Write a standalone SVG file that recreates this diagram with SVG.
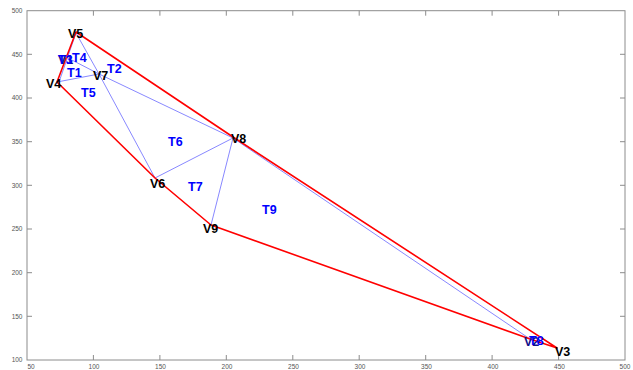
<svg xmlns="http://www.w3.org/2000/svg" width="633" height="370" viewBox="0 0 633 370">
<style>
.ax{fill:none;stroke:#8c8c8c;stroke-width:1}
.tk{stroke:#8c8c8c;stroke-width:1}
.tl{font-family:"Liberation Sans",Arial,sans-serif;font-size:6.5px;fill:#555}
.red{fill:none;stroke:#ff0000;stroke-width:1.6;stroke-linejoin:round}
.blue{fill:none;stroke:#6a6aff;stroke-width:0.8}
.v{font-family:"Liberation Sans",Arial,sans-serif;font-size:12.5px;font-weight:bold;fill:#000}
.t{font-family:"Liberation Sans",Arial,sans-serif;font-size:12.5px;font-weight:bold;fill:#0000ff}
</style>
<rect width="633" height="370" fill="#fff"/>
<g id="axes">
<rect class="ax" x="27" y="10.7" width="598" height="349.3"/>
<g class="tk">
<line x1="93.4" y1="360" x2="93.4" y2="355"/><line x1="159.9" y1="360" x2="159.9" y2="355"/><line x1="226.3" y1="360" x2="226.3" y2="355"/><line x1="292.8" y1="360" x2="292.8" y2="355"/><line x1="359.2" y1="360" x2="359.2" y2="355"/><line x1="425.7" y1="360" x2="425.7" y2="355"/><line x1="492.1" y1="360" x2="492.1" y2="355"/><line x1="558.6" y1="360" x2="558.6" y2="355"/>
<line x1="93.4" y1="10.7" x2="93.4" y2="15.7"/><line x1="159.9" y1="10.7" x2="159.9" y2="15.7"/><line x1="226.3" y1="10.7" x2="226.3" y2="15.7"/><line x1="292.8" y1="10.7" x2="292.8" y2="15.7"/><line x1="359.2" y1="10.7" x2="359.2" y2="15.7"/><line x1="425.7" y1="10.7" x2="425.7" y2="15.7"/><line x1="492.1" y1="10.7" x2="492.1" y2="15.7"/><line x1="558.6" y1="10.7" x2="558.6" y2="15.7"/>
<line x1="27" y1="54.3" x2="32" y2="54.3"/><line x1="27" y1="98" x2="32" y2="98"/><line x1="27" y1="141.7" x2="32" y2="141.7"/><line x1="27" y1="185.3" x2="32" y2="185.3"/><line x1="27" y1="229" x2="32" y2="229"/><line x1="27" y1="272.7" x2="32" y2="272.7"/><line x1="27" y1="316.3" x2="32" y2="316.3"/>
<line x1="625" y1="54.3" x2="620" y2="54.3"/><line x1="625" y1="98" x2="620" y2="98"/><line x1="625" y1="141.7" x2="620" y2="141.7"/><line x1="625" y1="185.3" x2="620" y2="185.3"/><line x1="625" y1="229" x2="620" y2="229"/><line x1="625" y1="272.7" x2="620" y2="272.7"/><line x1="625" y1="316.3" x2="620" y2="316.3"/>
</g>
<g class="tl" text-anchor="middle">
<text x="31" y="369">50</text><text x="94" y="369">100</text><text x="160.5" y="369">150</text><text x="227" y="369">200</text><text x="293.5" y="369">250</text><text x="360" y="369">300</text><text x="426.5" y="369">350</text><text x="493" y="369">400</text><text x="559.5" y="369">450</text><text x="625" y="369">500</text>
</g>
<g class="tl" text-anchor="end">
<text x="22.5" y="13">500</text><text x="22.5" y="56.6">450</text><text x="22.5" y="100.3">400</text><text x="22.5" y="144">350</text><text x="22.5" y="187.6">300</text><text x="22.5" y="231.3">250</text><text x="22.5" y="275">200</text><text x="22.5" y="318.6">150</text><text x="22.5" y="362.3">100</text>
</g>
</g>
<g id="connectors">
<g class="blue">
<line x1="76" y1="33" x2="99" y2="74"/>
<line x1="76" y1="33" x2="59" y2="82"/>
<line x1="66" y1="57" x2="99" y2="74"/>
<line x1="57" y1="82" x2="99" y2="74"/>
<line x1="99" y1="74" x2="233" y2="138"/>
<line x1="99" y1="74" x2="155" y2="178"/>
<line x1="155" y1="178" x2="233" y2="138"/>
<line x1="233" y1="138" x2="211" y2="225"/>
<line x1="233" y1="138" x2="530" y2="339"/>
</g>
<polyline class="red" points="57,82 76,32 233,137 557,348 530,339 211,225 155,178 57,82"/>
</g>
<g id="labels">
<g id="V5"><text class="v" x="68" y="38">V5</text></g>
<g id="V4"><text class="v" x="46" y="88">V4</text></g>
<g id="V7"><text class="v" x="93" y="80">V7</text></g>
<g id="V8"><text class="v" x="231" y="143">V8</text></g>
<g id="V6"><text class="v" x="150" y="188">V6</text></g>
<g id="V9"><text class="v" x="203" y="233">V9</text></g>
<g id="V3"><text class="v" x="555" y="356">V3</text></g>
<g id="V1"><text class="v" x="58" y="64" fill="#10108a" style="fill:#10108a">V1</text></g>
<g id="V2"><text class="v" x="524" y="346" style="fill:#10108a">V2</text></g>
<g id="T1"><text class="t" x="67" y="77">T1</text></g>
<g id="T2"><text class="t" x="107" y="73">T2</text></g>
<g id="T3"><text class="t" x="58" y="64">T3</text></g>
<g id="T4"><text class="t" x="72" y="62">T4</text></g>
<g id="T5"><text class="t" x="81" y="97">T5</text></g>
<g id="T6"><text class="t" x="168" y="146">T6</text></g>
<g id="T7"><text class="t" x="188" y="191">T7</text></g>
<g id="T8"><text class="t" x="529" y="345">T8</text></g>
<g id="T9"><text class="t" x="262" y="214">T9</text></g>
</g>
</svg>
